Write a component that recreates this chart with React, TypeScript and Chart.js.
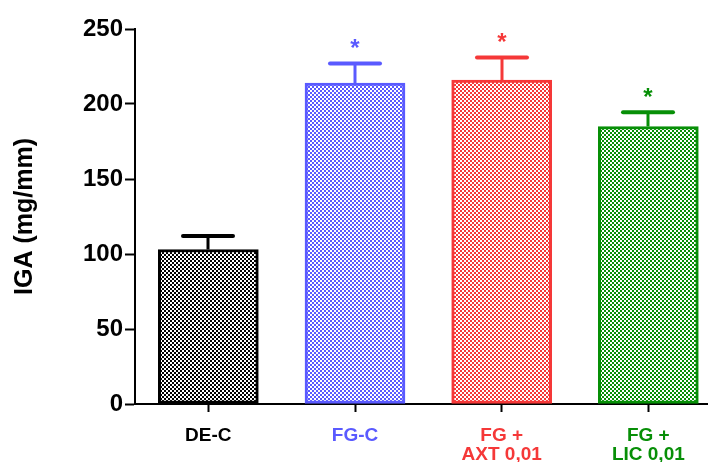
import React, { useEffect, useRef } from "react";
import { Chart, registerables } from "chart.js";

Chart.register(...registerables);

// Groups, mean IGA values and their SEM
const categories: (string | string[])[] = ["DE-C", "FG-C", ["FG +", "AXT 0,01"], ["FG +", "LIC 0,01"]];
const means: number[] = [103, 214, 216, 185];
const sems: number[] = [9, 13, 15, 9.5];
const significant: boolean[] = [false, true, true, true];
const groupColors: string[] = ["#000000", "#5a5aff", "#f53838", "#078f07"];

const yTicks: number[] = [0, 50, 100, 150, 200, 250];

const FONT = "'Liberation Sans', Arial, Helvetica, sans-serif";

function makeCheckerPattern(ctx: CanvasRenderingContext2D, color: string) {
  const tile = document.createElement("canvas");
  tile.width = 4;
  tile.height = 4;
  const t = tile.getContext("2d")!;
  t.fillStyle = color;
  t.fillRect(0, 0, 4, 4);
  t.fillStyle = "#ffffff";
  t.fillRect(0, 0, 2, 2);
  t.fillRect(2, 2, 2, 2);
  return ctx.createPattern(tile, "repeat")!;
}

// Upward SEM whiskers with caps, plus significance stars
const errorBarPlugin = {
  id: "semBars",
  afterDatasetsDraw(chart: any) {
    const { ctx, scales } = chart;
    const xs = scales.x;
    const ys = scales.y;
    ctx.save();
    means.forEach((m, i) => {
      const cx = Math.round(xs.getPixelForValue(i));
      const top = ys.getPixelForValue(m);
      const cap = ys.getPixelForValue(m + sems[i]);
      ctx.strokeStyle = groupColors[i];
      ctx.lineCap = "butt";
      ctx.lineWidth = 3;
      ctx.beginPath();
      ctx.moveTo(cx, top);
      ctx.lineTo(cx, cap);
      ctx.stroke();
      ctx.lineCap = "round";
      ctx.lineWidth = 4;
      ctx.beginPath();
      ctx.moveTo(cx - 25, cap);
      ctx.lineTo(cx + 25, cap);
      ctx.stroke();
      if (significant[i]) {
        ctx.fillStyle = groupColors[i];
        ctx.font = `bold 24px ${FONT}`;
        ctx.textAlign = "center";
        ctx.textBaseline = "middle";
        ctx.fillText("*", cx, cap - 14);
      }
    });
    ctx.restore();
  },
};

export default function App() {
  const canvasRef = useRef<HTMLCanvasElement | null>(null);

  useEffect(() => {
    const canvas = canvasRef.current!;
    const ctx = canvas.getContext("2d")!;
    const patterns = groupColors.map((c) => makeCheckerPattern(ctx, c));

    const chart = new Chart(ctx, {
      type: "bar",
      data: {
        datasets: [
          {
            data: means.map((m, i) => ({ x: i, y: m })),
            backgroundColor: patterns as any,
            borderColor: groupColors,
            borderWidth: 3,
            borderSkipped: false,
            barThickness: 100,
          },
        ],
      },
      options: {
        responsive: false,
        animation: false,
        events: [],
        layout: { padding: { top: 29, right: 1, left: 0, bottom: 0 } },
        plugins: {
          legend: { display: false },
          tooltip: { enabled: false },
        },
        scales: {
          x: {
            type: "linear",
            offset: false,
            min: -0.5,
            max: 3.4,
            afterBuildTicks: (scale: any) => {
              scale.ticks = categories.map((_, i) => ({ value: i }));
            },
            afterFit: (scale: any) => {
              scale.height = 58;
            },
            border: { display: true, color: "#000", width: 2 },
            grid: {
              offset: false,
              drawOnChartArea: false,
              drawTicks: true,
              tickLength: 8,
              tickWidth: 2,
              tickColor: "#000",
            },
            ticks: {
              autoSkip: false,
              maxRotation: 0,
              padding: 14,
              font: { family: FONT, size: 19, weight: "bold", lineHeight: 1.0 },
              color: (c: any) => groupColors[c.index] ?? "#000",
              callback: (v: any) => categories[v as number] ?? "",
            },
          },
          y: {
            min: 0,
            max: 250,
            afterBuildTicks: (scale: any) => {
              scale.ticks = yTicks.map((v) => ({ value: v }));
            },
            afterFit: (scale: any) => {
              scale.width = 135;
            },
            border: { display: true, color: "#000", width: 2 },
            grid: {
              drawOnChartArea: false,
              drawTicks: true,
              tickLength: 10,
              tickWidth: 2,
              tickColor: "#000",
            },
            ticks: {
              padding: 2,
              color: "#000",
              font: { family: FONT, size: 24, weight: "bold" },
            },
            title: {
              display: true,
              text: "IGA (mg/mm)",
              color: "#000",
              padding: { top: 11, bottom: 0 },
              font: { family: FONT, size: 25, weight: "bold", lineHeight: 1.1 },
            },
          },
        },
      },
      plugins: [errorBarPlugin],
    });

    return () => chart.destroy();
  }, []);

  return (
    <div style={{ position: "absolute", left: 0, top: 0, width: 708, height: 462, background: "#fff" }}>
      <canvas ref={canvasRef} width={708} height={462} style={{ display: "block" }} />
    </div>
  );
}
